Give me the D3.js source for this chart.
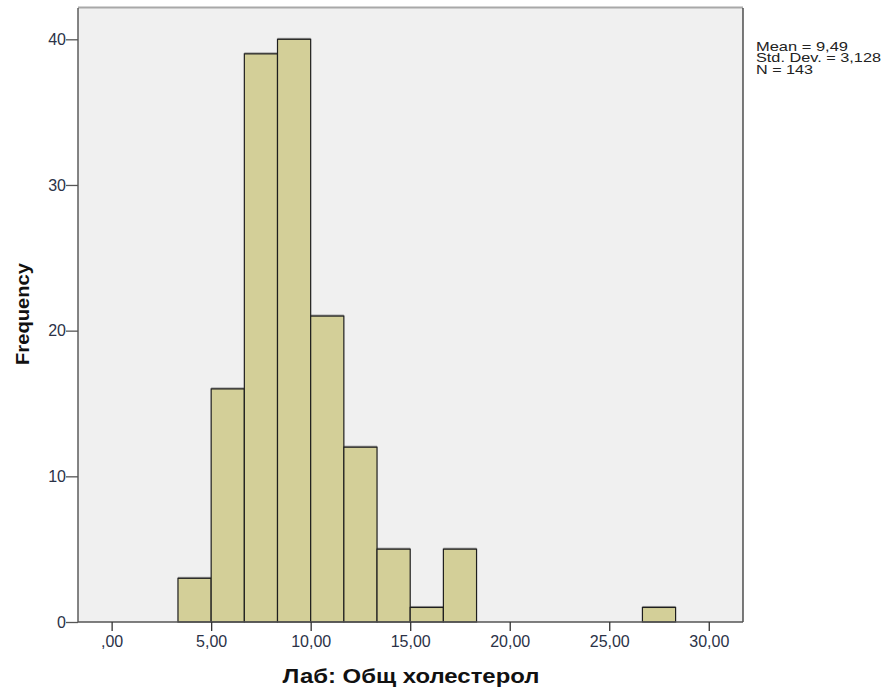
<!DOCTYPE html>
<html>
<head>
<meta charset="utf-8">
<script src="https://cdn.jsdelivr.net/npm/d3@7"></script>
<style>
  html, body { margin: 0; padding: 0; background: #fff; }
  svg { display: block; font-family: "Liberation Sans", Arial, sans-serif; }
</style>
</head>
<body>
<svg id="chart" width="892" height="689"></svg>
<script>
// Histogram of total cholesterol (lab value), 143 patients
const binStart = [3.333, 5.0, 6.667, 8.333, 10.0, 11.667, 13.333, 15.0, 16.667, 18.333, 20.0, 21.667, 23.333, 25.0, 26.667];
const binWidth = 5 / 3;
const counts   = [3, 16, 39, 40, 21, 12, 5, 1, 5, 0, 0, 0, 0, 0, 1];
const xTicks = [0, 5, 10, 15, 20, 25, 30];
const xTickLabels = [",00", "5,00", "10,00", "15,00", "20,00", "25,00", "30,00"];
const yTicks = [0, 10, 20, 30, 40];
const statsLines = ["Mean = 9,49", "Std. Dev. = 3,128", "N = 143"];
const xTitle = "Лаб: Общ холестерол";
const yTitle = "Frequency";

const svg = d3.select("#chart");
const plot = { left: 78, top: 8, right: 743, bottom: 622 };

const x = d3.scaleLinear().domain([-1.69, 31.72]).range([plot.left, plot.right]);
const y = d3.scaleLinear().domain([0, 40]).range([plot.bottom, 39.3]);

// plot background and frame
svg.append("rect")
  .attr("x", plot.left).attr("y", plot.top)
  .attr("width", plot.right - plot.left).attr("height", plot.bottom - plot.top)
  .attr("fill", "#f0f0f0");
svg.append("line")
  .attr("x1", plot.left).attr("x2", plot.right)
  .attr("y1", plot.top - 0.5).attr("y2", plot.top - 0.5)
  .attr("stroke", "#a8a8a8").attr("stroke-width", 2);
svg.append("line")
  .attr("x1", plot.left).attr("x2", plot.left)
  .attr("y1", plot.top).attr("y2", plot.bottom)
  .attr("stroke", "#444").attr("stroke-width", 1.3);
svg.append("line")
  .attr("x1", plot.right).attr("x2", plot.right)
  .attr("y1", plot.top).attr("y2", plot.bottom)
  .attr("stroke", "#333").attr("stroke-width", 1.3);

// bars
const bins = binStart.map((s, i) => ({ x0: s, x1: s + binWidth, n: counts[i] })).filter(d => d.n > 0);
const bars = svg.append("g");
bars.selectAll("rect.shadow").data(bins).join("rect")
  .attr("class", "shadow")
  .attr("x", d => x(d.x0)).attr("y", d => y(d.n) - 1.5)
  .attr("width", d => x(d.x1) - x(d.x0)).attr("height", 2)
  .attr("fill", "#9a9a9a");
bars.selectAll("rect.bar").data(bins).join("rect")
  .attr("class", "bar")
  .attr("x", d => x(d.x0)).attr("y", d => y(d.n))
  .attr("width", d => x(d.x1) - x(d.x0)).attr("height", d => y(0) - y(d.n))
  .attr("fill", "#d3cf98").attr("stroke", "#1e1e1e").attr("stroke-width", 1.2);

// x axis
const xAxis = d3.axisBottom(x).tickValues(xTicks)
  .tickFormat((d, i) => xTickLabels[i]).tickSize(9).tickPadding(5);
const gx = svg.append("g").attr("transform", `translate(0,${plot.bottom})`).call(xAxis);
gx.select(".domain").attr("stroke", "#555").attr("stroke-width", 1.3)
  .attr("d", `M${plot.left},0H${plot.right}`);
gx.selectAll(".tick line").attr("stroke", "#333").attr("stroke-width", 1.3);
gx.selectAll(".tick text").attr("fill", "#2b3247").style("font-size", "16px")
  .style("font-family", "'Liberation Sans', Arial, sans-serif");

// y axis
const yAxis = d3.axisLeft(y).tickValues(yTicks).tickSize(12).tickPadding(0);
const gy = svg.append("g").attr("transform", `translate(${plot.left},0)`).call(yAxis);
gy.select(".domain").remove();
gy.selectAll(".tick line").attr("stroke", "#555").attr("stroke-width", 1.3);
gy.selectAll(".tick text").attr("fill", "#2b3247").style("font-size", "16px")
  .style("font-family", "'Liberation Sans', Arial, sans-serif");

// axis titles
svg.append("text")
  .attr("x", 411).attr("y", 683)
  .attr("text-anchor", "middle")
  .attr("font-weight", "bold").attr("font-size", 21).attr("fill", "#111")
  .attr("textLength", 257).attr("lengthAdjust", "spacingAndGlyphs")
  .text(xTitle);
svg.append("text")
  .attr("transform", "translate(29,314) rotate(-90)")
  .attr("text-anchor", "middle")
  .attr("font-weight", "bold").attr("font-size", 19).attr("fill", "#111")
  .attr("textLength", 102).attr("lengthAdjust", "spacingAndGlyphs")
  .text(yTitle);

// summary statistics
const statsWidth = [92, 125, 57];
svg.append("g").selectAll("text").data(statsLines).join("text")
  .attr("x", 756).attr("y", (d, i) => 50.5 + i * 11.8)
  .attr("font-size", 13.5).attr("fill", "#222")
  .attr("textLength", (d, i) => statsWidth[i]).attr("lengthAdjust", "spacingAndGlyphs")
  .text(d => d);
</script>
</body>
</html>
